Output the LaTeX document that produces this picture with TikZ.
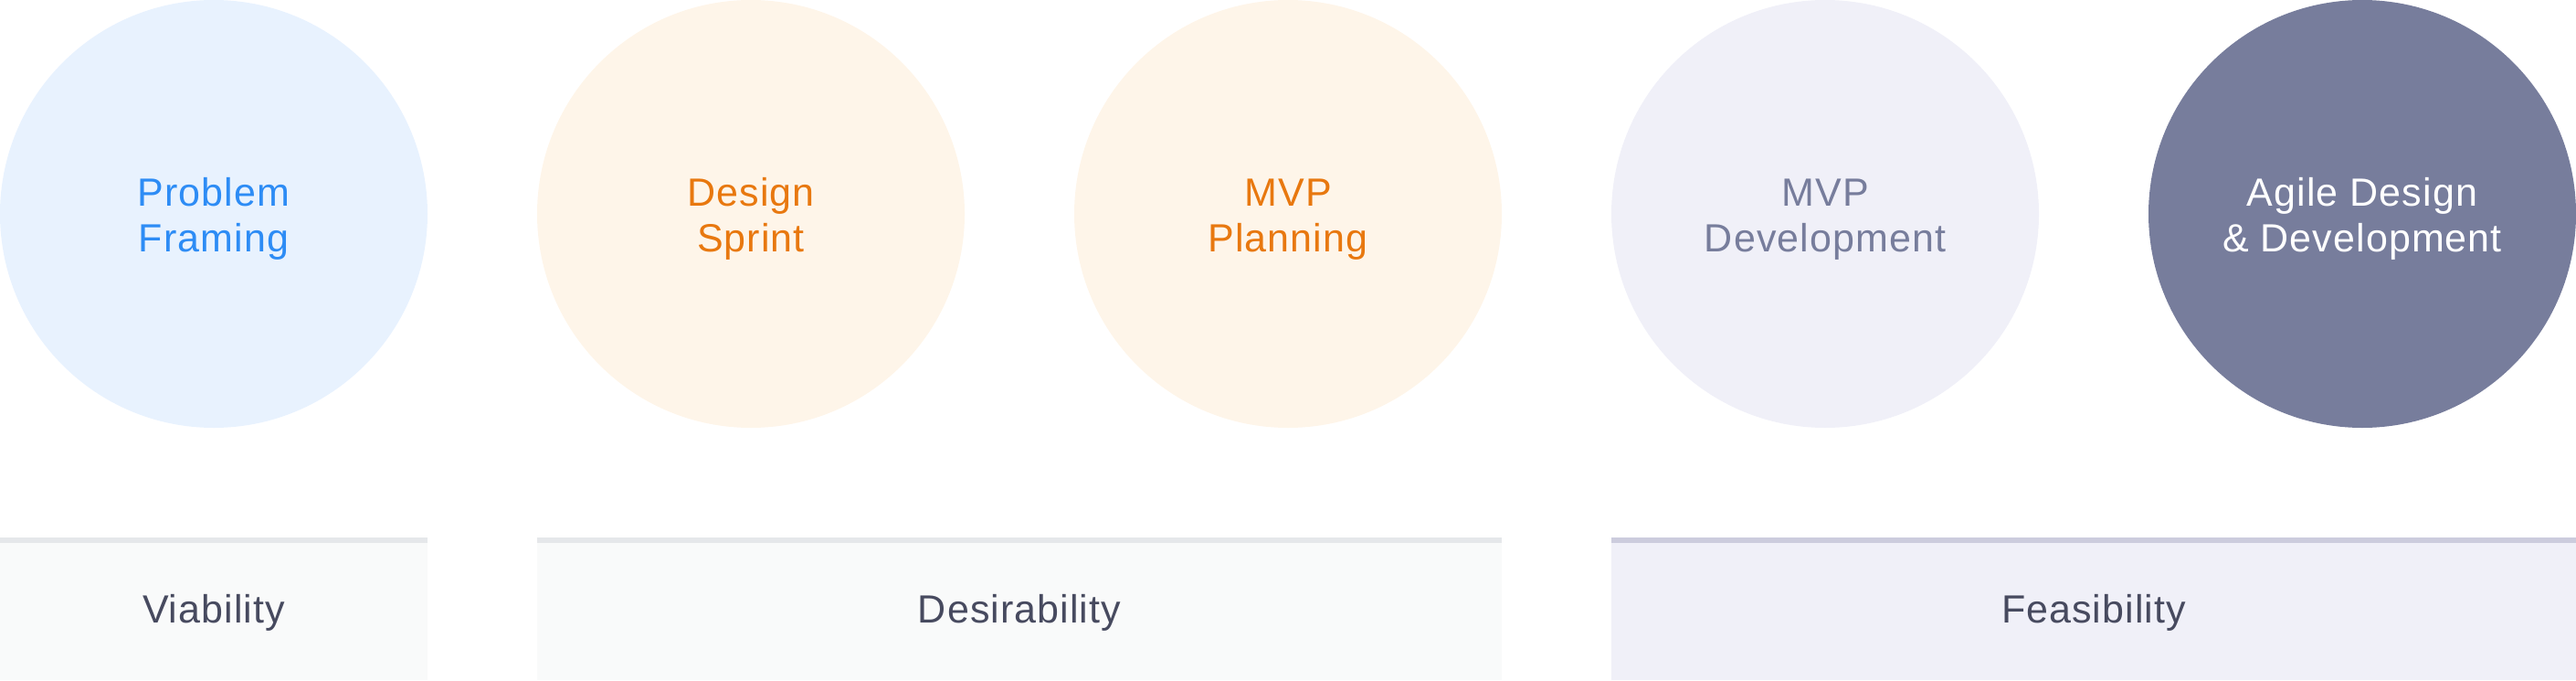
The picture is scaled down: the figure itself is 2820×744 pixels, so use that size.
\documentclass[tikz,border=0pt]{standalone}
\usepackage{fontspec}
\setmainfont{Liberation Sans}[LetterSpace=2.5]
\usepackage{tikz}

\definecolor{pfFill}{HTML}{E8F2FE}
\definecolor{pfText}{HTML}{2D8CF5}
\definecolor{dsFill}{HTML}{FEF5E9}
\definecolor{dsText}{HTML}{E8780F}
\definecolor{mvFill}{HTML}{F0F0F8}
\definecolor{mvText}{HTML}{777D9C}
\definecolor{bandFill}{HTML}{F9FAFA}
\definecolor{bandLine}{HTML}{E5E7EA}
\definecolor{feLine}{HTML}{CCCCDD}
\definecolor{labelText}{HTML}{474A5F}

\begin{document}
\begin{tikzpicture}[x=1pt, y=-1pt,
  bubble/.style={circle, minimum size=468pt, inner sep=0pt},
  bubtext/.style={align=center, anchor=base, inner sep=0pt, font=\fontsize{43}{50}\selectfont},
  bandtext/.style={anchor=base, inner sep=0pt, text=labelText, font=\fontsize{43}{50}\selectfont}]
\useasboundingbox (0,0) rectangle (2820,744);
\node [bubble, fill=pfFill] (pf) at (234,234) {};
\node [bubtext, text=pfText] (pflabel) at (234,275) {Problem\\Framing};
\node [bubble, fill=dsFill] (ds) at (822,234) {};
\node [bubtext, text=dsText] (dslabel) at (822,275) {Design\\Sprint};
\node [bubble, fill=dsFill] (mp) at (1410,234) {};
\node [bubtext, text=dsText] (mplabel) at (1410,275) {MVP\\Planning};
\node [bubble, fill=mvFill] (md) at (1998,234) {};
\node [bubtext, text=mvText] (mdlabel) at (1998,275) {MVP\\Development};
\node [bubble, fill=mvText] (ad) at (2586,234) {};
\node [bubtext, text=white] (adlabel) at (2586,275) {Agile Design\\\& Development};
\fill [bandFill] (0,594) rectangle (468,744);
\fill [bandLine] (0,588) rectangle (468,594);
\node [bandtext] (viab) at (234,681) {Viability};
\fill [bandFill] (588,594) rectangle (1644,744);
\fill [bandLine] (588,588) rectangle (1644,594);
\node [bandtext] (desir) at (1116,681) {Desirability};
\fill [mvFill] (1764,594) rectangle (2820,744);
\fill [feLine] (1764,588) rectangle (2820,594);
\node [bandtext] (feas) at (2292,681) {Feasibility};
\end{tikzpicture}
\end{document}
